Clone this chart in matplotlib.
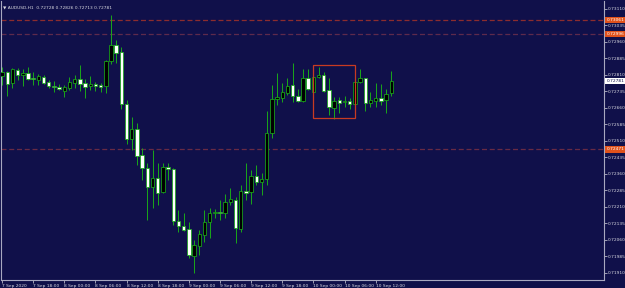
import numpy as np
import matplotlib
matplotlib.use('Agg')
import matplotlib.pyplot as plt
from matplotlib.patches import Rectangle

# AUDUSD H1, 7 Sep 2020 12:00 .. 10 Sep 2020 15:00
opens = [0.72805, 0.72823, 0.72773, 0.72833, 0.72810, 0.72819, 0.72796, 0.72787, 0.72801, 0.72778,
         0.72760, 0.72755, 0.72737, 0.72751, 0.72773, 0.72792, 0.72773, 0.72760, 0.72769, 0.72764,
         0.72760, 0.72873, 0.72946, 0.72914, 0.72678, 0.72519, 0.72564, 0.72446, 0.72387, 0.72300,
         0.72341, 0.72277, 0.72391, 0.72382, 0.72145, 0.72123, 0.72109, 0.71986, 0.72032, 0.72082,
         0.72141, 0.72182, 0.72186, 0.72182, 0.72232, 0.72241, 0.72109, 0.72282, 0.72277, 0.72350,
         0.72323, 0.72337, 0.72546, 0.72701, 0.72705, 0.72728, 0.72764, 0.72714, 0.72691, 0.72796,
         0.72732, 0.72801, 0.72810, 0.72742, 0.72660, 0.72696, 0.72687, 0.72691, 0.72678, 0.72778,
         0.72796, 0.72682, 0.72691, 0.72705, 0.72696, 0.72728]
highs = [0.72846, 0.72828, 0.72842, 0.72842, 0.72837, 0.72846, 0.72823, 0.72814, 0.72810, 0.72787,
         0.72782, 0.72769, 0.72764, 0.72801, 0.72810, 0.72855, 0.72792, 0.72805, 0.72778, 0.72773,
         0.72878, 0.73083, 0.72969, 0.72937, 0.72696, 0.72619, 0.72591, 0.72478, 0.72409, 0.72469,
         0.72409, 0.72409, 0.72409, 0.72387, 0.72196, 0.72182, 0.72141, 0.72059, 0.72105, 0.72196,
         0.72205, 0.72200, 0.72241, 0.72268, 0.72296, 0.72255, 0.72309, 0.72409, 0.72378, 0.72400,
         0.72364, 0.72646, 0.72764, 0.72819, 0.72773, 0.72796, 0.72864, 0.72746, 0.72837, 0.72837,
         0.72819, 0.72846, 0.72823, 0.72796, 0.72710, 0.72710, 0.72714, 0.72705, 0.72796, 0.72837,
         0.72796, 0.72732, 0.72773, 0.72769, 0.72746, 0.72826]
lows = [0.72764, 0.72714, 0.72751, 0.72787, 0.72760, 0.72787, 0.72764, 0.72764, 0.72769, 0.72751,
        0.72732, 0.72742, 0.72710, 0.72742, 0.72751, 0.72737, 0.72705, 0.72742, 0.72737, 0.72732,
        0.72728, 0.72860, 0.72864, 0.72655, 0.72496, 0.72469, 0.72400, 0.72332, 0.72150, 0.72205,
        0.72218, 0.72273, 0.72332, 0.72127, 0.72095, 0.72100, 0.71977, 0.71909, 0.71991, 0.72050,
        0.72068, 0.72159, 0.72150, 0.72159, 0.72218, 0.72045, 0.72095, 0.72241, 0.72223, 0.72309,
        0.72264, 0.72309, 0.72523, 0.72673, 0.72687, 0.72719, 0.72687, 0.72687, 0.72687, 0.72742,
        0.72728, 0.72796, 0.72732, 0.72628, 0.72610, 0.72637, 0.72664, 0.72655, 0.72669, 0.72773,
        0.72646, 0.72664, 0.72664, 0.72673, 0.72637, 0.72713]
closes = [0.72823, 0.72769, 0.72837, 0.72810, 0.72819, 0.72792, 0.72792, 0.72805, 0.72773, 0.72760,
          0.72755, 0.72746, 0.72755, 0.72778, 0.72792, 0.72769, 0.72755, 0.72769, 0.72760, 0.72755,
          0.72873, 0.72946, 0.72910, 0.72678, 0.72519, 0.72564, 0.72441, 0.72387, 0.72300, 0.72341,
          0.72273, 0.72391, 0.72382, 0.72145, 0.72123, 0.72105, 0.71991, 0.72036, 0.72086, 0.72141,
          0.72182, 0.72186, 0.72182, 0.72232, 0.72246, 0.72114, 0.72282, 0.72273, 0.72350, 0.72323,
          0.72337, 0.72546, 0.72701, 0.72710, 0.72732, 0.72760, 0.72714, 0.72691, 0.72796, 0.72746,
          0.72801, 0.72810, 0.72737, 0.72664, 0.72691, 0.72682, 0.72691, 0.72678, 0.72778, 0.72796,
          0.72682, 0.72696, 0.72705, 0.72691, 0.72723, 0.72781]

price_ticks = [0.73110, 0.73035, 0.72960, 0.72885, 0.72810, 0.72735, 0.72660, 0.72585, 0.72510,
               0.72435, 0.72360, 0.72285, 0.72210, 0.72135, 0.72060, 0.71985, 0.71910]
time_pos = [0, 6, 12, 18, 24, 30, 36, 42, 48, 54, 60, 66, 72]
time_labels = ['7 Sep 2020', '7 Sep 18:00', '8 Sep 00:00', '8 Sep 06:00', '8 Sep 12:00',
               '8 Sep 18:00', '9 Sep 00:00', '9 Sep 06:00', '9 Sep 12:00', '9 Sep 18:00',
               '10 Sep 00:00', '10 Sep 06:00', '10 Sep 12:00']
levels = [0.73061, 0.72996, 0.72471]
box_bars = [60, 68]
box_prices = [0.72613, 0.72855]
title = 'AUDUSD,H1  0.72728 0.72826 0.72713 0.72781'

bg = '#10104a'
green = '#1aa81a'
fg = '#d8d8e0'

fig = plt.figure(figsize=(6.25, 2.88), dpi=100, facecolor=bg)
ax = fig.add_axes([1 / 625, 8 / 288, 603 / 625, 279 / 288], facecolor=bg)

x = np.arange(len(opens))
o = np.array(opens)
c = np.array(closes)
ax.vlines(x, lows, highs, color=green, linewidth=0.7, zorder=2)
body_lo = np.minimum(o, c)
body_h = np.maximum(np.abs(c - o), 0.000015)
colors = ['#000000' if cc >= oo else '#ffffff' for oo, cc in zip(o, c)]
ax.bar(x, body_h, bottom=body_lo, width=0.66, color=colors, edgecolor=green,
       linewidth=0.55, zorder=3)

# horizontal levels, dark dashed
for lv, col in zip(levels, ['#8c2c2e', '#5e2a4c', '#682a44']):
    ax.axhline(lv, color=col, linewidth=0.9, dashes=(4, 2.2), zorder=1)

ax.add_patch(Rectangle((box_bars[0], box_prices[0]), box_bars[1] - box_bars[0],
                       box_prices[1] - box_prices[0], fill=False, edgecolor='#c83a22',
                       linewidth=0.9, zorder=4))

ax.set_xlim(-0.2, 116)
ax.set_ylim(0.71877, 0.73146)

ax.yaxis.tick_right()
ax.set_yticks(price_ticks)
ax.set_yticklabels(['%.5f' % p for p in price_ticks])
ax.tick_params(axis='y', colors=fg, labelsize=3.2, length=2, width=0.5, pad=1)
ax.set_xticks(time_pos)
ax.set_xticklabels(time_labels, ha='left')
ax.tick_params(axis='x', colors=fg, labelsize=3.2, length=2, width=0.5, pad=1)

for side in ['left', 'right', 'bottom']:
    ax.spines[side].set_color('#a8a8c0')
    ax.spines[side].set_linewidth(0.8)
ax.spines['top'].set_visible(False)

ytr = ax.get_yaxis_transform()
for lv in levels:
    ax.text(1.004, lv, '%.5f' % lv, transform=ytr, fontsize=3.2, color='white',
            va='center', ha='left', clip_on=False, zorder=5,
            bbox=dict(boxstyle='square,pad=0.25', fc='#e0521c', ec='none'))
ax.text(1.004, closes[-1], '%.5f' % closes[-1], transform=ytr, fontsize=3.2, color='#10104a',
        va='center', ha='left', clip_on=False, zorder=5,
        bbox=dict(boxstyle='square,pad=0.25', fc='white', ec='none'))

ax.text(0.003, 0.985, '\u25bc ' + title, transform=ax.transAxes, fontsize=3.2,
        color=fg, va='top', ha='left')

fig.savefig('out.png', dpi=100, facecolor=bg)
